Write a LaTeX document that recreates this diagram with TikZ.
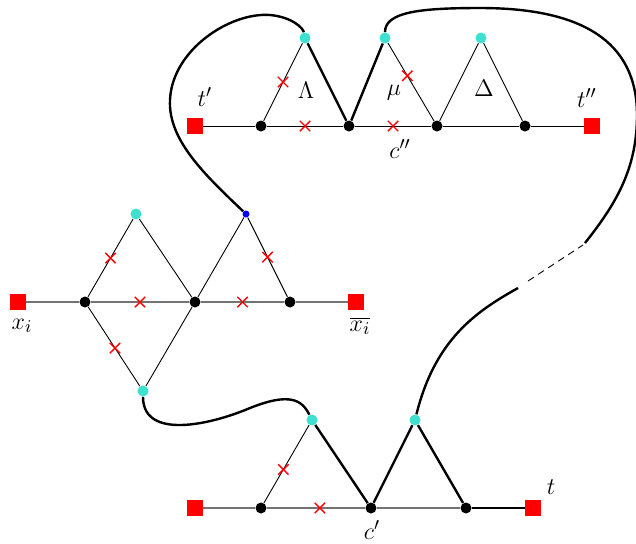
\documentclass[tikz,border=0pt]{standalone}
\usetikzlibrary{shapes.misc,calc}
\definecolor{turq}{RGB}{64,224,208}
\begin{document}
\begin{tikzpicture}[x=0.5pt,y=-0.5pt,
 blk/.style={circle,fill=black,inner sep=0pt,minimum size=5.5pt},
 cyn/.style={circle,fill=turq,inner sep=0pt,minimum size=5.5pt},
 bdot/.style={circle,fill=blue,inner sep=0pt,minimum size=3.5pt},
 term/.style={rectangle,fill=red,inner sep=0pt,minimum size=8pt},
 crs/.style={cross out,draw=red,line width=0.7pt,inner sep=0pt,minimum size=4.5pt},
 tln/.style={line width=0.45pt},
 gline/.style={line width=0.8pt,draw=black!55},
 thk/.style={line width=1.2pt},
 lbl/.style={inner sep=0pt,font=\fontsize{13pt}{15pt}\selectfont}]
\useasboundingbox (0,0) rectangle (636,543);
% ---- top gadget
\node[term] (tp) at (195,126) {};
\node[blk] (a1) at (261,126) {};
\node[blk] (a2) at (349,126) {};
\node[blk] (a3) at (437,126) {};
\node[blk] (a4) at (525,126) {};
\node[term] (tpp) at (592,126) {};
\node[cyn] (u1) at (305,38) {};
\node[cyn] (u2) at (385,38) {};
\node[cyn] (u3) at (481,38) {};
\draw[tln] (tp) -- (a1) -- node[crs] (k1) {} (a2) -- node[crs] (k2) {} (a3) -- (a4) -- (tpp);
\draw[tln] (a1) -- node[crs] (k3) {} (u1);
\draw[thk] (u1) -- (a2) -- (u2);
\draw[tln] (u2) -- node[crs,pos=0.42] (k4) {} (a3);
\draw[tln] (a3) -- (u3) -- (a4);
\node[lbl] (ltp) at (205,97) {$t'$};
\node[lbl] (ltpp) at (587,98) {$t''$};
\node[lbl] (lLam) at (306,90) {$\Lambda$};
\node[lbl] (lmu) at (394,93) {$\mu$};
\node[lbl] (lDel) at (484,88) {$\Delta$};
\node[lbl] (lcpp) at (400,149) {$c''$};
% ---- middle gadget
\node[term] (xi) at (18,302) {};
\node[blk] (b1) at (85,302) {};
\node[blk] (b2) at (195,302) {};
\node[blk] (b3) at (290,302) {};
\node[term] (xib) at (356,302) {};
\node[cyn] (v1) at (136,214) {};
\node[bdot] (v2) at (246,214) {};
\node[cyn] (v3) at (143,391) {};
\draw[gline] (xi) -- (b1) -- node[crs] (k5) {} (b2) -- node[crs] (k6) {} (b3) -- (xib);
\draw[tln] (b1) -- node[crs] (k7) {} (v1) -- (b2) -- (v2) -- node[crs] (k8) {} (b3);
\draw[tln] (b1) -- node[crs,pos=0.52] (k9) {} (v3) -- (b2);
\node[lbl] (lxi) at (22,326) {$x_i$};
\node[lbl] (lxib) at (360,326) {$\overline{x_i}$};
% ---- bottom gadget
\node[term] (s) at (195,508) {};
\node[blk] (d1) at (261,508) {};
\node[blk] (d2) at (371,508) {};
\node[blk] (d3) at (466,508) {};
\node[term] (t) at (533,508) {};
\node[cyn] (w1) at (312,420) {};
\node[cyn] (w2) at (415,420) {};
\draw[gline] (s) -- (d1) -- node[crs,pos=0.54] (k10) {} (d2) -- (d3);
\draw[thk] (d3) -- (t);
\draw[tln] (d1) -- node[crs,pos=0.43] (k11) {} (w1);
\draw[thk] (w1) -- (d2) -- (w2) -- (d3);
\node[lbl] (lcp) at (372,530) {$c'$};
\node[lbl] (lt) at (551,487) {$t$};
% ---- long curves
\coordinate (p1) at (518,288);
\coordinate (p2) at (528,281);
\coordinate (p3) at (583,245);
\coordinate (p4) at (585,243);
\draw[thk] (v3) .. controls (143,440) and (210,425) .. (250,408)
  .. controls (290,392) and (302,400) .. (w1);
\draw[thk] (w2) .. controls (435,340) and (475,312) .. (p1);
\draw[tln,dash pattern=on 3.5pt off 2.5pt] (p2) -- (p3);
\draw[thk] (p4) .. controls (615,205) and (637,170) .. (637,115)
  .. controls (637,40) and (580,8) .. (480,8)
  .. controls (420,8) and (385,12) .. (u2);
\draw[thk] (v2) .. controls (205,175) and (168,140) .. (170,100)
  .. controls (172,50) and (230,12) .. (270,15)
  .. controls (292,17) and (303,28) .. (u1);
\end{tikzpicture}
\end{document}
